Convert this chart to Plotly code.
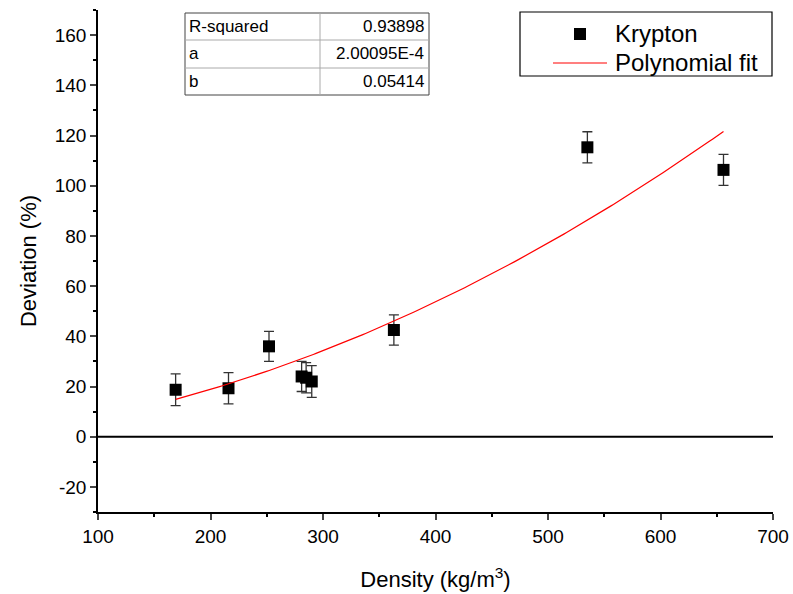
import plotly.graph_objects as go
import numpy as np

density = [169, 216, 252, 281, 285, 290, 363, 535, 656]
deviation = [18.7, 19.3, 36.0, 24.0, 23.5, 22.0, 42.5, 115.3, 106.3]
dev_err = [6.3, 6.2, 6.0, 6.0, 6.0, 6.3, 6.0, 6.2, 6.2]

fit_a = 2.00095e-4
fit_b = 0.05414
table_labels = ["R-squared", "a", "b"]
table_values = ["0.93898", "2.00095E-4", "0.05414"]
legend_names = ["Krypton", "Polynomial fit"]

x_ticks = [100, 200, 300, 400, 500, 600, 700]
y_ticks = [-20, 0, 20, 40, 60, 80, 100, 120, 140, 160]

W, H = 793, 594
L, R, T, B = 98, 20, 10, 82
pw, ph = W - L - R, H - T - B
FONT = "Liberation Sans, Arial"

def px(x):
    return (x - L) / pw

def py(y):
    return (H - B - y) / ph

xf = np.linspace(min(density), max(density), 200)
yf = fit_a * xf**2 + fit_b * xf

fig = go.Figure()
fig.add_trace(go.Scatter(
    x=density, y=deviation, mode="markers", name=legend_names[0],
    marker=dict(symbol="square", size=12, color="black"),
    error_y=dict(type="data", array=dev_err, visible=True, color="#333333", thickness=1.3, width=5),
))
fig.add_trace(go.Scatter(
    x=xf, y=yf, mode="lines", name=legend_names[1],
    line=dict(color="red", width=1.2),
))

shapes = [
    dict(type="line", xref="paper", yref="y", x0=0, x1=1, y0=0, y1=0,
         line=dict(color="black", width=2)),
]
annotations = []

# statistics table
tx0, tx1, tmid = px(185), px(429), px(320)
ty = [py(13), py(40), py(68), py(95)]
shapes.append(dict(type="rect", xref="paper", yref="paper", x0=tx0, x1=tx1, y0=ty[3], y1=ty[0],
                   line=dict(color="#444444", width=1), fillcolor="white"))
shapes.append(dict(type="line", xref="paper", yref="paper", x0=tmid, x1=tmid, y0=ty[3], y1=ty[0],
                   line=dict(color="#aaaaaa", width=1)))
for yy in ty[1:3]:
    shapes.append(dict(type="line", xref="paper", yref="paper", x0=tx0, x1=tx1, y0=yy, y1=yy,
                       line=dict(color="#aaaaaa", width=1)))
for i, (lab, val) in enumerate(zip(table_labels, table_values)):
    yc = (ty[i] + ty[i + 1]) / 2
    annotations.append(dict(xref="paper", yref="paper", x=tx0 + 0.003, y=yc, text=lab,
                            showarrow=False, xanchor="left", yanchor="middle",
                            font=dict(size=17, color="black", family=FONT)))
    annotations.append(dict(xref="paper", yref="paper", x=tx1 - 0.004, y=yc, text=val,
                            showarrow=False, xanchor="right", yanchor="middle",
                            font=dict(size=17, color="black", family=FONT)))

# legend box (drawn manually to match layout)
shapes.append(dict(type="rect", xref="paper", yref="paper", x0=px(520), x1=px(772), y0=py(76), y1=py(12),
                   line=dict(color="black", width=1.2), fillcolor="white"))
shapes.append(dict(type="rect", xref="paper", yref="paper", x0=px(574), x1=px(586), y0=py(40), y1=py(28),
                   line=dict(color="black", width=0), fillcolor="black"))
shapes.append(dict(type="line", xref="paper", yref="paper", x0=px(553), x1=px(607), y0=py(63), y1=py(63),
                   line=dict(color="red", width=1.2)))
for name, yy in zip(legend_names, [34, 62]):
    annotations.append(dict(xref="paper", yref="paper", x=px(613), y=py(yy), text=name,
                            showarrow=False, xanchor="left", yanchor="middle",
                            font=dict(size=24, color="black", family=FONT)))

fig.update_layout(
    width=W, height=H,
    margin=dict(l=L, r=R, t=T, b=B),
    plot_bgcolor="white", paper_bgcolor="white",
    font=dict(family=FONT, color="black", size=19),
    shapes=shapes, annotations=annotations,
    showlegend=False,
)
fig.update_xaxes(
    range=[100, 700], tickvals=x_ticks, ticktext=[str(v) for v in x_ticks],
    ticks="outside", ticklen=6, tickwidth=1.5, automargin=False,
    showline=True, linecolor="black", linewidth=1.5, showgrid=False, zeroline=False,
    minor=dict(dtick=50, ticks="outside", ticklen=3, tickcolor="black", tickwidth=1.5),
    title=dict(text="Density (kg/m<sup>3</sup>)", font=dict(size=22), standoff=26),
    tickfont=dict(size=19),
)
fig.update_yaxes(
    range=[-30, 170], tickvals=y_ticks, ticktext=[str(v) for v in y_ticks],
    ticks="outside", ticklen=6, tickwidth=1.5, automargin=False,
    showline=True, linecolor="black", linewidth=1.5, showgrid=False, zeroline=False,
    minor=dict(dtick=10, ticks="outside", ticklen=3, tickcolor="black", tickwidth=1.5),
    title=dict(text="Deviation (%)", font=dict(size=22), standoff=12),
    tickfont=dict(size=19),
)
fig.write_html("out.html")
